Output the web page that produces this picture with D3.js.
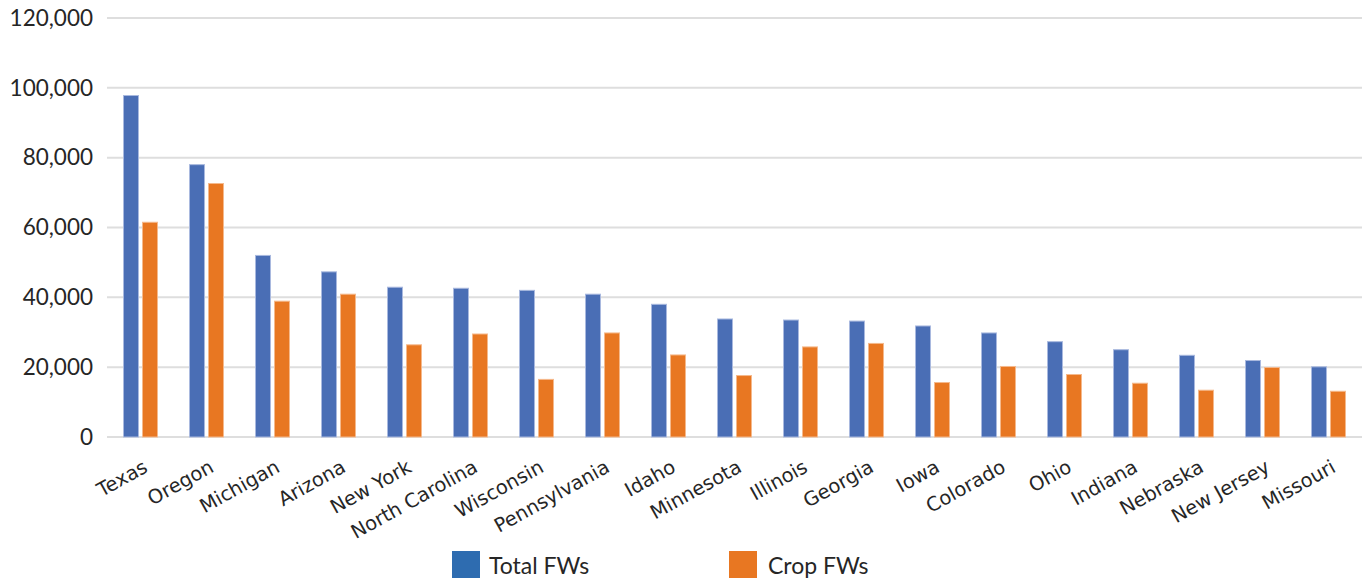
<!DOCTYPE html>
<html>
<head>
<meta charset="utf-8">
<script src="https://cdn.jsdelivr.net/npm/d3@7/dist/d3.min.js"></script>
<style>
  html, body { margin: 0; padding: 0; background: #fff; }
  svg { display: block; }
</style>
</head>
<body>
<svg id="chart" width="1366" height="581"></svg>
<script>
// Farmworker counts by state
const states = ["Texas", "Oregon", "Michigan", "Arizona", "New York", "North Carolina",
  "Wisconsin", "Pennsylvania", "Idaho", "Minnesota", "Illinois", "Georgia", "Iowa",
  "Colorado", "Ohio", "Indiana", "Nebraska", "New Jersey", "Missouri"];
const totalFWs = [97800, 78000, 52000, 47300, 42900, 42600, 42000, 40900, 38000, 33800,
  33500, 33200, 31800, 29800, 27300, 25000, 23400, 21900, 20100];
const cropFWs = [61500, 72600, 38900, 40900, 26400, 29500, 16500, 29800, 23500, 17600,
  25800, 26800, 15600, 20200, 17900, 15400, 13400, 19900, 13100];
const seriesNames = ["Total FWs", "Crop FWs"];
const yTicks = [0, 20000, 40000, 60000, 80000, 100000, 120000];

const barColors = ["#4a6eb5", "#e87722"];
const barStrokes = ["#a9b9df", "#f5b98c"];
const legendColors = ["#2e6cb0", "#e87722"];

const svg = d3.select("#chart");
const margin = { left: 107, right: 5, top: 18, bottom: 144 };
const W = 1366, H = 581;

const x = d3.scaleBand().domain(states).range([margin.left, margin.left + 66 * states.length]).padding(0);
const y = d3.scaleLinear().domain([0, 120000]).range([H - margin.bottom, margin.top]);

// Gridlines
svg.append("g")
  .selectAll("line")
  .data(yTicks)
  .join("line")
  .attr("x1", margin.left)
  .attr("x2", margin.left + 66 * states.length + 1)
  .attr("y1", d => y(d))
  .attr("y2", d => y(d))
  .attr("stroke", "#dedede")
  .attr("stroke-width", 2);

// Y axis labels
const yAxis = d3.axisLeft(y).tickValues(yTicks).tickFormat(d3.format(",")).tickSize(0).tickPadding(14);
const yg = svg.append("g").attr("transform", `translate(${margin.left},0)`).call(yAxis);
yg.select(".domain").remove();
yg.selectAll("text")
  .attr("font-family", "Lato, 'Open Sans', sans-serif")
  .attr("font-size", 22.5)
  .attr("fill", "#262626");

// Bars
const barW = 15;
const offsets = [-17, 2];
const data = states.map((s, i) => ({ state: s, vals: [totalFWs[i], cropFWs[i]] }));
const groups = svg.append("g").selectAll("g")
  .data(data)
  .join("g")
  .attr("transform", d => `translate(${x(d.state) + x.bandwidth() / 2},0)`);
groups.selectAll("rect")
  .data(d => d.vals.map((v, k) => ({ v, k })))
  .join("rect")
  .attr("x", d => offsets[d.k] + 0.5)
  .attr("width", barW)
  .attr("y", d => y(d.v))
  .attr("height", d => y(0) - y(d.v))
  .attr("fill", d => barColors[d.k])
  .attr("stroke", d => barStrokes[d.k])
  .attr("stroke-width", 1);

// X axis labels, rotated
const xAxis = d3.axisBottom(x).tickSize(0).tickPadding(0);
const xg = svg.append("g").attr("transform", `translate(0,${y(0)})`).call(xAxis);
xg.select(".domain").remove();
xg.selectAll("text")
  .attr("font-family", "'DejaVu Sans', sans-serif")
  .attr("font-size", 19.5)
  .attr("fill", "#262626")
  .attr("text-anchor", "end")
  .attr("dy", 0)
  .attr("y", 0)
  .attr("transform", "translate(9,34) rotate(-29)");

// Legend
const legend = svg.append("g");
const legendX = [452, 729];
const legendTextOffset = [37, 39];
seriesNames.forEach((name, k) => {
  legend.append("rect")
    .attr("x", legendX[k]).attr("y", 551)
    .attr("width", 28).attr("height", 27)
    .attr("fill", legendColors[k]);
  legend.append("text")
    .attr("x", legendX[k] + legendTextOffset[k]).attr("y", 574)
    .attr("font-family", "Lato, 'Open Sans', sans-serif")
    .attr("font-size", 23)
    .attr("fill", "#262626")
    .text(name);
});
</script>
</body>
</html>
